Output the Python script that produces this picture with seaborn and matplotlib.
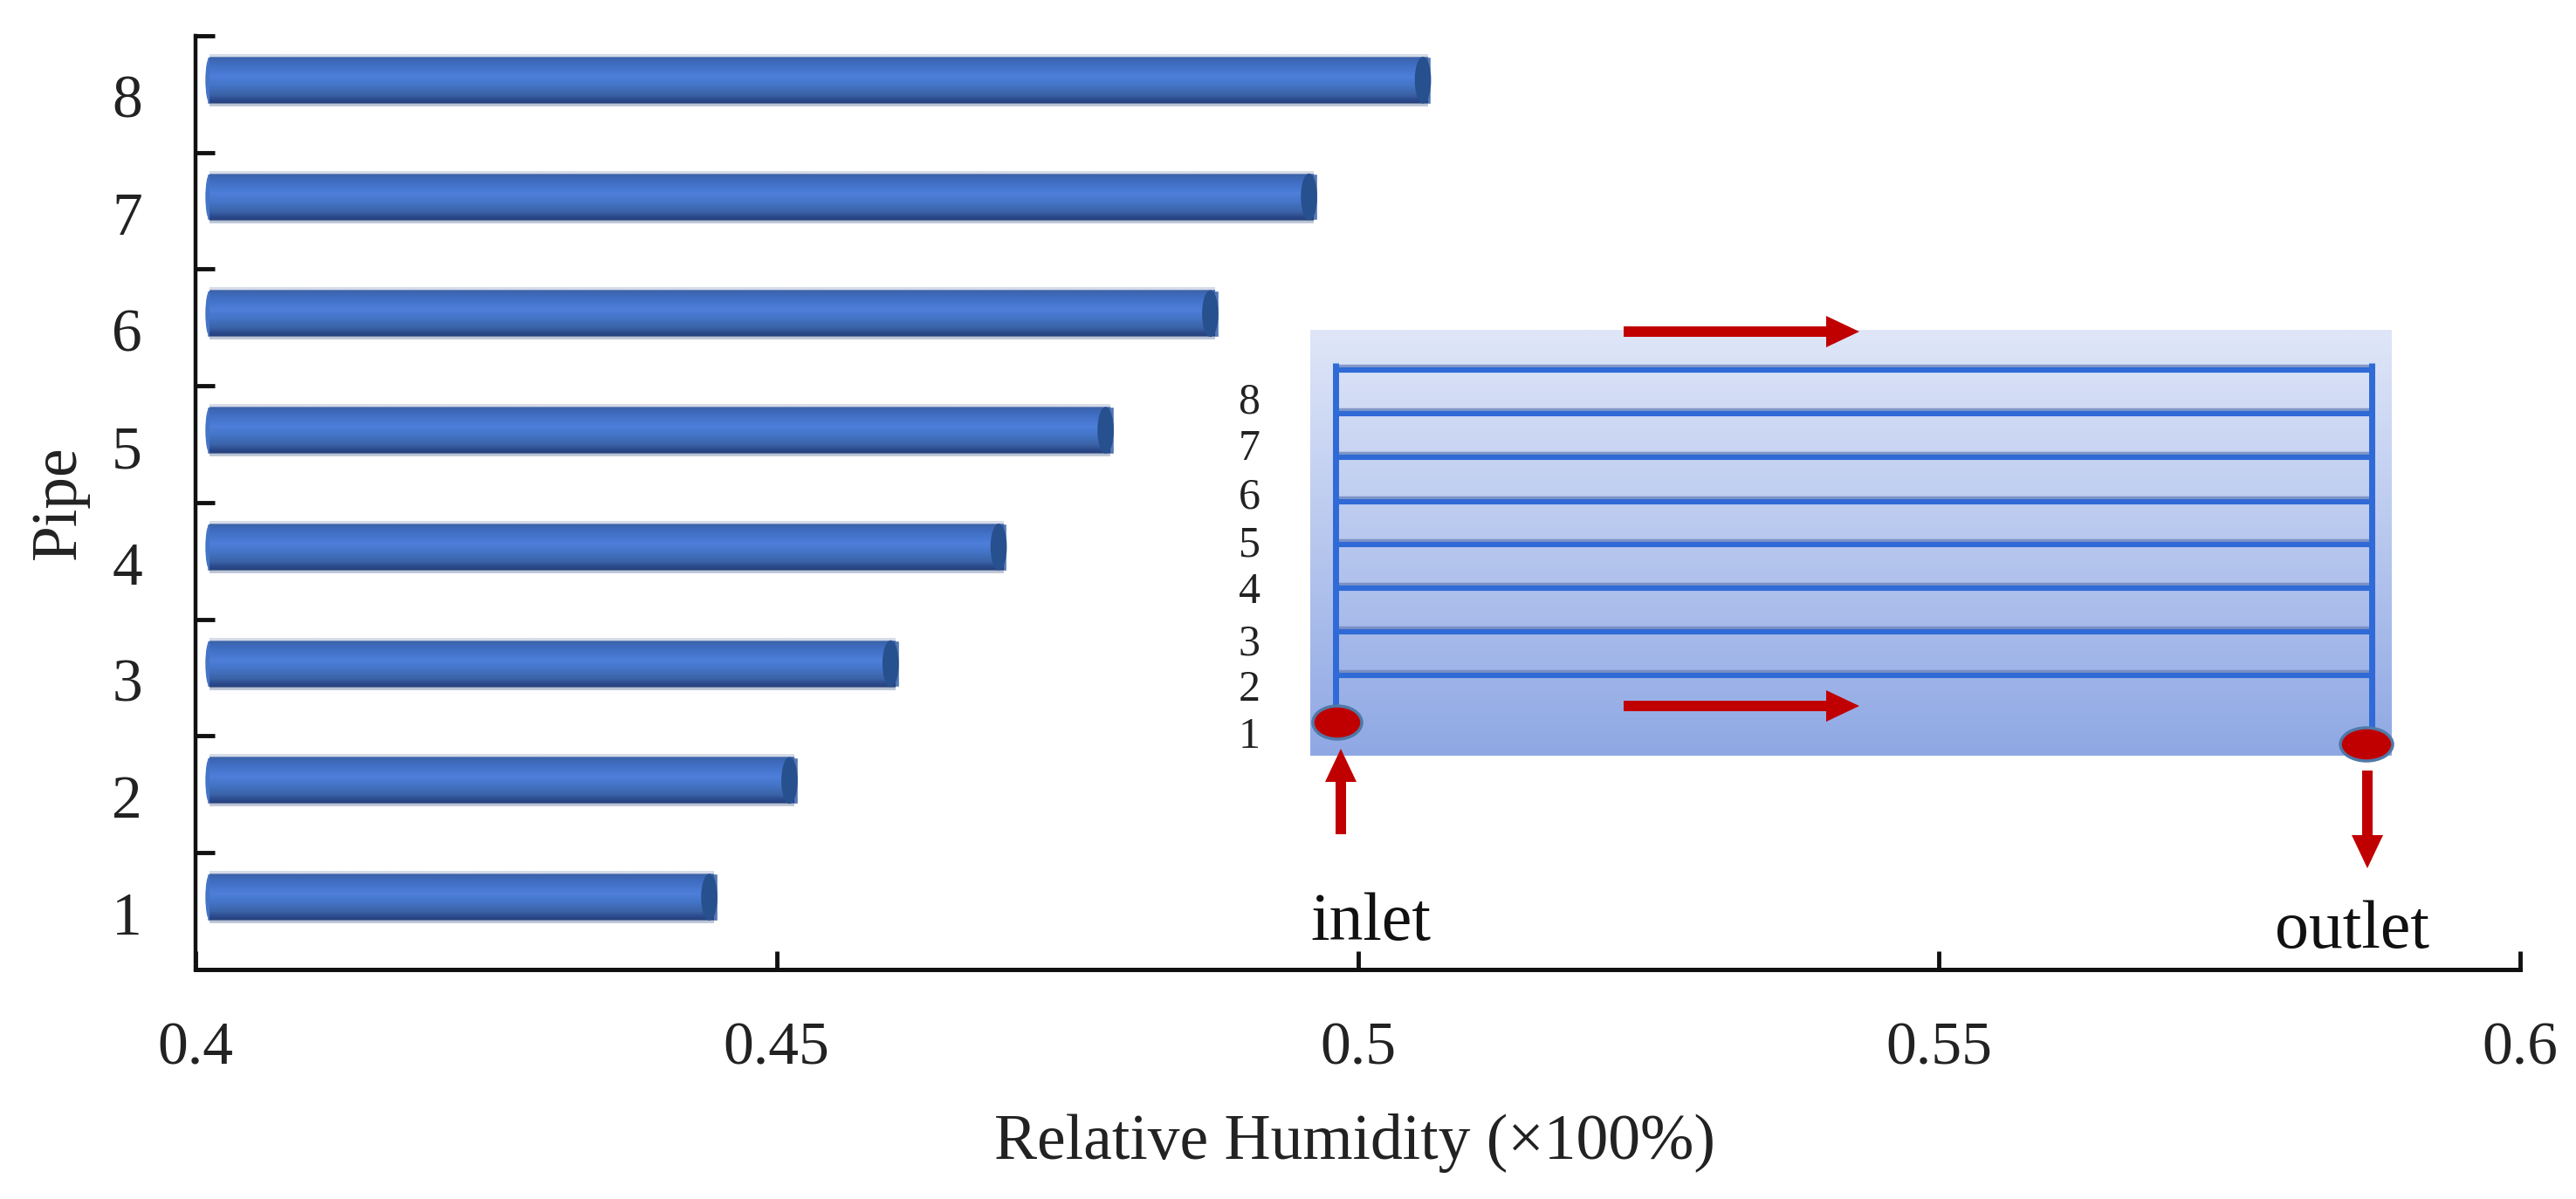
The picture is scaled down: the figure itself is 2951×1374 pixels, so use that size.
import matplotlib
matplotlib.use("Agg")
import matplotlib.pyplot as plt
import numpy as np
import pandas as pd
import seaborn as sns
from matplotlib.colors import LinearSegmentedColormap
from matplotlib.patches import Ellipse, FancyArrow

pipes = ["8", "7", "6", "5", "4", "3", "2", "1"]
humidity = [0.5063, 0.4965, 0.488, 0.479, 0.4698, 0.4605, 0.4518, 0.4449]
x_ticks = [0.4, 0.45, 0.5, 0.55, 0.6]
x_tick_labels = ["0.4", "0.45", "0.5", "0.55", "0.6"]
inset_labels = ["8", "7", "6", "5", "4", "3", "2", "1"]

W, H = 2951, 1374
BAR_START = 0.4010

sns.set_theme(style="ticks")
plt.rcParams["font.family"] = ["Liberation Serif", "DejaVu Serif"]

df = pd.DataFrame({"pipe": pipes, "humidity": humidity})

fig = plt.figure(figsize=(W / 100, H / 100), dpi=100, facecolor="white")
ax = fig.add_axes([224 / W, (H - 1111) / H, (2887 - 224) / W, (1111 - 41) / H])

sns.barplot(data=df, x="humidity", y="pipe", order=pipes, orient="h",
            color="#4474c4", width=0.40, ax=ax)

# cylinder look: gradient over each bar plus end caps
bar_cmap = LinearSegmentedColormap.from_list("cyl", [
    (0.00, "#d6dce8"), (0.05, "#d6dce8"), (0.058, "#3c62a8"), (0.18, "#3f6cc0"),
    (0.43, "#4d7fdb"), (0.60, "#4474c6"), (0.78, "#3a62a6"), (0.87, "#2b4a8c"),
    (0.94, "#27407a"), (0.948, "#b7c0d2"), (1.00, "#c4ccdb")])
grad = np.linspace(0, 1, 256).reshape(-1, 1)
cap_w = 0.0014
for bar in ax.patches:
    val = bar.get_width()
    yc = bar.get_y() + bar.get_height() / 2
    h = bar.get_height()
    bar.set_x(BAR_START)
    bar.set_width(val - BAR_START)
    ax.add_patch(Ellipse((BAR_START + 0.0002, yc), 0.0007, h * 0.96, color="#4574c6", zorder=2.5, lw=0))
    ax.imshow(grad, extent=[BAR_START + 0.0002, val - 0.0003, yc + h * 0.56, yc - h * 0.56],
              aspect="auto", cmap=bar_cmap, vmin=0, vmax=1, zorder=3)
    ax.add_patch(Ellipse((val - cap_w / 2, yc), cap_w, h * 1.0, facecolor="#27508f",
                         edgecolor="none", zorder=4))

top = -0.38
centers = np.arange(len(pipes))
ax.set_xlim(0.4, 0.6)
ax.set_ylim(top + 8, top)
ax.set_xticks(x_ticks, x_tick_labels)
ax.set_yticks(centers + 0.14, pipes)
ax.set_yticks(top + np.arange(9), minor=True)

ax.spines["top"].set_visible(False)
ax.spines["right"].set_visible(False)
ax.spines["left"].set_linewidth(3.2)
ax.spines["bottom"].set_linewidth(3.6)
ax.spines["left"].set_color("#111111")
ax.spines["bottom"].set_color("#111111")
ax.tick_params(axis="x", direction="in", length=15, width=3.5, pad=43, labelsize=50,
               color="#111111", labelcolor="#222222")
ax.tick_params(axis="y", which="major", length=0, pad=44, labelsize=50, labelcolor="#222222")
ax.tick_params(axis="y", which="minor", direction="in", length=16, width=3.5, color="#111111")
ax.set_xlabel("")
ax.set_ylabel("")

# everything below is placed in picture pixels
over = fig.add_axes([0, 0, 1, 1], facecolor="none")
over.set_axis_off()

panel_cmap = LinearSegmentedColormap.from_list("panel", ["#dfe6f8", "#8fa8e4"])
over.imshow(grad, extent=[1501, 2740, 866, 378], aspect="auto", cmap=panel_cmap, zorder=1)

line_y = [423, 473, 523, 574, 623, 673, 723, 773]
for y in line_y:
    over.plot([1530, 2717], [y - 4, y - 4], color="#6f86bd", lw=2.5, alpha=0.8,
              solid_capstyle="butt", zorder=2)
    over.plot([1530, 2717], [y + 0.5, y + 0.5], color="#2f6ad6", lw=4.4,
              solid_capstyle="butt", zorder=3)
for x in [1530, 2717]:
    over.plot([x, x], [416, 840 if x > 2000 else 815], color="#2f6ad6", lw=5,
              solid_capstyle="butt", zorder=3)

over.add_patch(Ellipse((1532, 828), 56, 38, facecolor="#c00000", edgecolor="#4f79a8", lw=2.5, zorder=4))
over.add_patch(Ellipse((2711, 853), 60, 38, facecolor="#c00000", edgecolor="#4f79a8", lw=2.5, zorder=4))

for x, y, dx, dy in [(1860, 380, 270, 0), (1860, 809, 270, 0),
                     (1536, 956, 0, -98), (2712, 883, 0, 112)]:
    over.add_patch(FancyArrow(x, y, dx, dy, width=12, head_width=36, head_length=38,
                              length_includes_head=True, color="#c00000", lw=0, zorder=5))

label_y = [461, 515, 570, 625, 679, 738, 791, 845]
for lab, y in zip(inset_labels, label_y):
    over.text(1431, y, lab, fontsize=36, ha="center", va="center", color="#222222")

over.text(1501, 1077, "inlet", fontsize=56, ha="left", va="baseline", color="#111111")
over.text(2606, 1086, "outlet", fontsize=56, ha="left", va="baseline", color="#111111")
over.text(1552, 1328, "Relative Humidity (×100%)", fontsize=53, ha="center", va="baseline", color="#222222")
over.text(68, 576, "Pipe", fontsize=53, rotation=90, ha="center", va="center", color="#222222")

over.set_xlim(0, W)
over.set_ylim(H, 0)

fig.savefig("out.png", dpi=100)
